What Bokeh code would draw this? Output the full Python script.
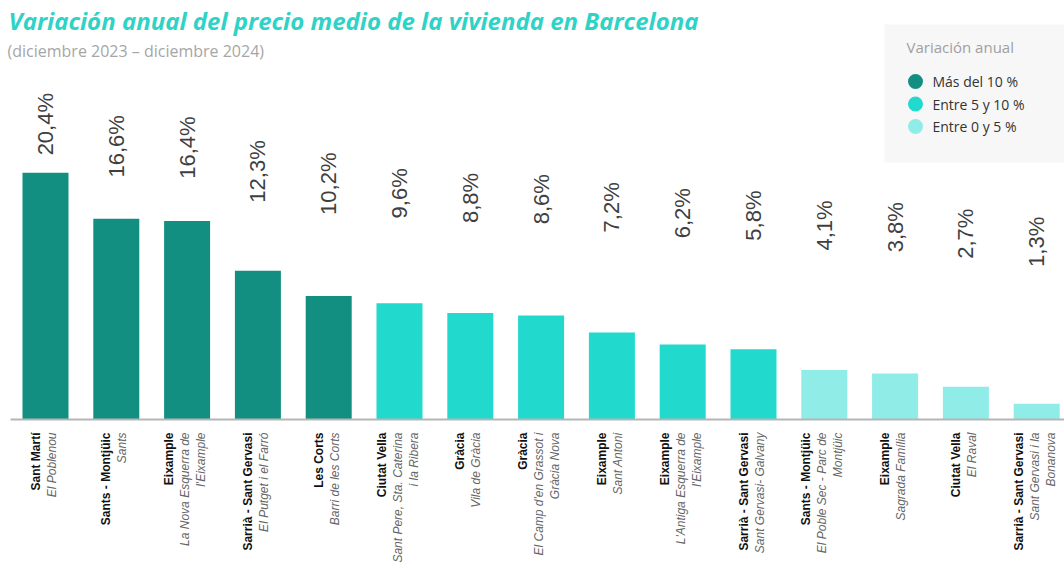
import math
from bokeh.plotting import figure
from bokeh.models import ColumnDataSource, Range1d, Label, BoxAnnotation, Span
from bokeh.core.properties import value
from bokeh.embed import file_html
from bokeh.resources import INLINE

# ---------------- data ----------------
districts = ["Sant Martí", "Sants - Montjüic", "Eixample", "Sarrià - Sant Gervasi",
             "Les Corts", "Ciutat Vella", "Gràcia", "Gràcia", "Eixample", "Eixample",
             "Sarrià - Sant Gervasi", "Sants - Montjüic", "Eixample", "Ciutat Vella",
             "Sarrià - Sant Gervasi"]
neighborhoods = ["El Poblenou", "Sants", "La Nova Esquerra de\nl'Eixample",
                 "El Putget i el Farró", "Barri de les Corts",
                 "Sant Pere, Sta. Caterina\ni la Ribera", "Vila de Gràcia",
                 "El Camp d'en Grassot i\nGràcia Nova", "Sant Antoni",
                 "L'Antiga Esquerra de\nl'Eixample", "Sant Gervasi- Galvany",
                 "El Poble Sec - Parc de\nMontjüic", "Sagrada Família", "El Raval",
                 "Sant Gervasi i la\nBonanova"]
values = [20.4, 16.6, 16.4, 12.3, 10.2, 9.6, 8.8, 8.6, 7.2, 6.2, 5.8, 4.1, 3.8, 2.7, 1.3]
legend_labels = ["Más del 10 %", "Entre 5 y 10 %", "Entre 0 y 5 %"]
legend_colors = ["#138F82", "#21D9CD", "#8FECE6"]
title_text = "Variación anual del precio medio de la vivienda en Barcelona"
subtitle_text = "(diciembre 2023 – diciembre 2024)"
legend_title = "Variación anual"

# ---------------- layout ----------------
W, H = 1064, 569
BAR_STEP = 70.8
FIRST_CENTER = 45
BASE_Y = 419
PX_PER_UNIT = 12.1

x0 = -FIRST_CENTER / BAR_STEP
x1 = x0 + W / BAR_STEP
y0 = -(H - BASE_Y) / PX_PER_UNIT
y1 = BASE_Y / PX_PER_UNIT


def color_for(v):
    if v > 10:
        return legend_colors[0]
    if v > 5:
        return legend_colors[1]
    return legend_colors[2]


def px2x(px):
    return x0 + px / BAR_STEP


def py2y(py):
    return y1 - py / PX_PER_UNIT


xs = list(range(len(values)))
bar_src = ColumnDataSource(dict(
    x=xs, top=values, color=[color_for(v) for v in values],
    lab=[f"{v:.1f}".replace(".", ",") + "%" for v in values],
    ly=[(145 + 5.84 * v) / PX_PER_UNIT for v in values],
))

bx, bt, bo, ix, it, io = [], [], [], [], [], []
for i, (d, n) in enumerate(zip(districts, neighborhoods)):
    lines = [d] + n.split("\n")
    k = len(lines)
    for j, line in enumerate(lines):
        off = (j - (k - 1) / 2) * 16 - 2
        if j == 0:
            bx.append(i); bt.append(line); bo.append(off)
        else:
            ix.append(i); it.append(line); io.append(off)

p = figure(width=W, height=H, output_backend="svg", toolbar_location=None,
           x_range=Range1d(x0, x1), y_range=Range1d(y0, y1),
           min_border=0, outline_line_color=None)
p.axis.visible = False
p.grid.visible = False
p.background_fill_color = "white"
p.border_fill_color = "white"

p.vbar(x="x", top="top", bottom=0, width=46 / BAR_STEP, color="color",
       line_color=None, source=bar_src)

p.segment(x0=[px2x(10)], y0=[0], x1=[x1], y1=[0], line_color="#b5b5b5", line_width=2)

p.text(x="x", y="ly", text="lab", source=bar_src, angle=math.pi / 2,
       text_align="left", text_baseline="middle", text_color="#3F3F3F",
       text_font=value("Liberation Sans"), text_font_size="22px")

p.text(x=bx, y=[0] * len(bx), text=bt, x_offset=bo, y_offset=13, angle=math.pi / 2,
       text_align="right", text_baseline="middle", text_color="#111111",
       text_font=value("Liberation Sans"), text_font_style="bold", text_font_size="12px")
p.text(x=ix, y=[0] * len(ix), text=it, x_offset=io, y_offset=13, angle=math.pi / 2,
       text_align="right", text_baseline="middle", text_color="#666666",
       text_font=value("Liberation Sans"), text_font_style="italic", text_font_size="12px")

# title & subtitle
p.add_layout(Label(x=8, y=H - 20, x_units="screen", y_units="screen",
                   text=title_text, text_font="Open Sans", text_font_style="bold italic",
                   text_font_size="24px", text_color="#2ED3C6", text_baseline="alphabetic"))
p.add_layout(Label(x=7, y=H - 50, x_units="screen", y_units="screen",
                   text=subtitle_text, text_font="Open Sans",
                   text_font_size="16px", text_color="#A6A6A6", text_baseline="alphabetic"))

# legend
p.add_layout(BoxAnnotation(left=884, right=W, top=H - 24, bottom=H - 162,
                           left_units="screen", right_units="screen",
                           top_units="screen", bottom_units="screen",
                           fill_color="#F7F7F7", fill_alpha=1, line_color=None,
                           level="underlay"))
p.add_layout(Label(x=906, y=H - 46, x_units="screen", y_units="screen",
                   text=legend_title, text_font="Open Sans", text_font_size="15px",
                   text_color="#A0A0A0", text_baseline="alphabetic"))
leg_py = [81, 103.5, 126]
p.scatter(x=[px2x(915)] * 3, y=[py2y(v) for v in leg_py], size=15,
          color=legend_colors, line_color=None)
for lab, py in zip(legend_labels, leg_py):
    p.add_layout(Label(x=932, y=H - py, x_units="screen", y_units="screen",
                       text=lab, text_font="Open Sans", text_font_size="14px",
                       text_color="#333333", text_baseline="middle"))

open("out.html", "w").write(file_html(p, INLINE))
